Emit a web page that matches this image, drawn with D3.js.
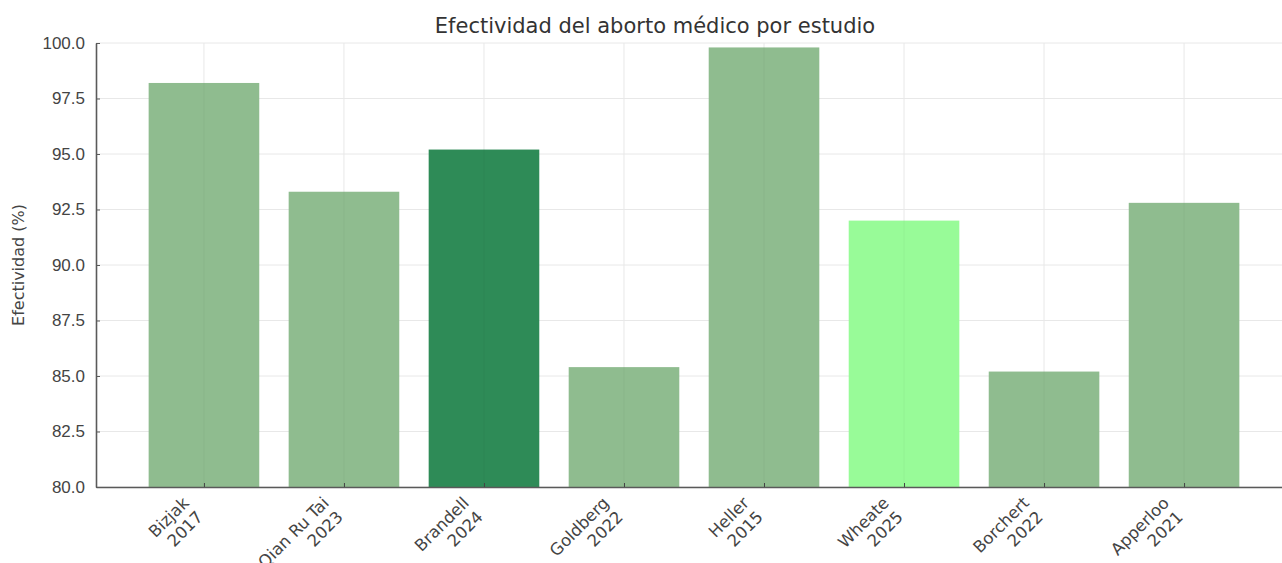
<!DOCTYPE html>
<html>
<head>
<meta charset="utf-8">
<script src="https://cdn.jsdelivr.net/npm/d3@7"></script>
<style>
  html, body { margin: 0; padding: 0; background: #fff; }
  svg { display: block; font-family: "DejaVu Sans", sans-serif; }
</style>
</head>
<body>
<svg id="chart" width="1282" height="563"></svg>
<script>
// Study names and years (two-line tick labels)
const studies = ["Bizjak", "Qian Ru Tai", "Brandell", "Goldberg", "Heller", "Wheate", "Borchert", "Apperloo"];
const years = ["2017", "2023", "2024", "2022", "2015", "2025", "2022", "2021"];
// Effectiveness of medical abortion, percent
const effectiveness = [98.2, 93.3, 95.2, 85.4, 99.8, 92.0, 85.2, 92.8];
// Bar colours per study
const barColors = ["#8fbc8f", "#8fbc8f", "#2e8b57", "#8fbc8f", "#8fbc8f", "#98fb98", "#8fbc8f", "#8fbc8f"];
const yTicks = [80.0, 82.5, 85.0, 87.5, 90.0, 92.5, 95.0, 97.5, 100.0];

const svg = d3.select("#chart");
const plotLeft = 96, plotRight = 1292, plotTop = 43, plotBottom = 487;

const x = d3.scaleLinear().domain([-0.771, studies.length - 1 + 0.771]).range([plotLeft, plotRight]);
const y = d3.scaleLinear().domain([80, 100]).range([plotBottom, plotTop]);
const barW = x(0.79) - x(0);

// Grid
const grid = svg.append("g");
grid.selectAll("line.hy").data(yTicks).join("line")
  .attr("x1", plotLeft).attr("x2", plotRight)
  .attr("y1", d => y(d)).attr("y2", d => y(d))
  .attr("stroke", "#e8e8e8").attr("stroke-width", 1);
grid.selectAll("line.vx").data(studies).join("line")
  .attr("x1", (d, i) => x(i)).attr("x2", (d, i) => x(i))
  .attr("y1", plotTop).attr("y2", plotBottom)
  .attr("stroke", "#e8e8e8").attr("stroke-width", 1);

// Bars
svg.append("g").selectAll("rect").data(effectiveness).join("rect")
  .attr("x", (d, i) => x(i) - barW / 2)
  .attr("width", barW)
  .attr("y", d => y(d))
  .attr("height", d => y(80) - y(d))
  .attr("fill", (d, i) => barColors[i]);

// Faint centre gridlines showing through the bars
svg.append("g").selectAll("line").data(effectiveness).join("line")
  .attr("x1", (d, i) => x(i)).attr("x2", (d, i) => x(i))
  .attr("y1", d => y(d)).attr("y2", plotBottom)
  .attr("stroke", "#000").attr("stroke-opacity", 0.04).attr("stroke-width", 1);

// Y axis with inward ticks
const yAxis = svg.append("g").attr("transform", `translate(${plotLeft},0)`)
  .call(d3.axisLeft(y).tickValues(yTicks).tickFormat(d3.format(".1f")).tickSizeInner(-4).tickSizeOuter(0).tickPadding(11));
yAxis.select(".domain").attr("stroke", "#5a5a5a").attr("stroke-width", 1.6);
yAxis.selectAll(".tick line").attr("stroke", "#5a5a5a");
yAxis.selectAll(".tick text").attr("fill", "#444").attr("font-size", "17px");

// X axis with inward ticks at bar centres
const xAxis = svg.append("g").attr("transform", `translate(0,${plotBottom})`)
  .call(d3.axisBottom(x).tickValues(d3.range(studies.length)).tickSizeInner(-4).tickSizeOuter(0).tickFormat(""));
xAxis.select(".domain").attr("stroke", "#5a5a5a").attr("stroke-width", 1.6);
xAxis.selectAll(".tick line").attr("stroke", "#444");

// Rotated two-line tick labels
const labels = svg.append("g").selectAll("text").data(studies).join("text")
  .attr("transform", (d, i) => `translate(${x(i) - 14},${plotBottom + 17}) rotate(-45)`)
  .attr("text-anchor", "end")
  .attr("fill", "#444")
  .attr("font-size", "16.5px");
labels.append("tspan").attr("x", 0).attr("dy", 0).text(d => d);
labels.append("tspan").attr("x", 0).attr("dy", "1.2em").text((d, i) => years[i]);

// Axis title
svg.append("text")
  .attr("transform", `translate(24,${(plotTop + plotBottom) / 2}) rotate(-90)`)
  .attr("text-anchor", "middle")
  .attr("fill", "#444")
  .attr("font-size", "16px")
  .text("Efectividad (%)");

// Chart title
svg.append("text")
  .attr("x", 655).attr("y", 33)
  .attr("text-anchor", "middle")
  .attr("fill", "#333")
  .attr("font-size", "21px")
  .text("Efectividad del aborto médico por estudio");
</script>
</body>
</html>
